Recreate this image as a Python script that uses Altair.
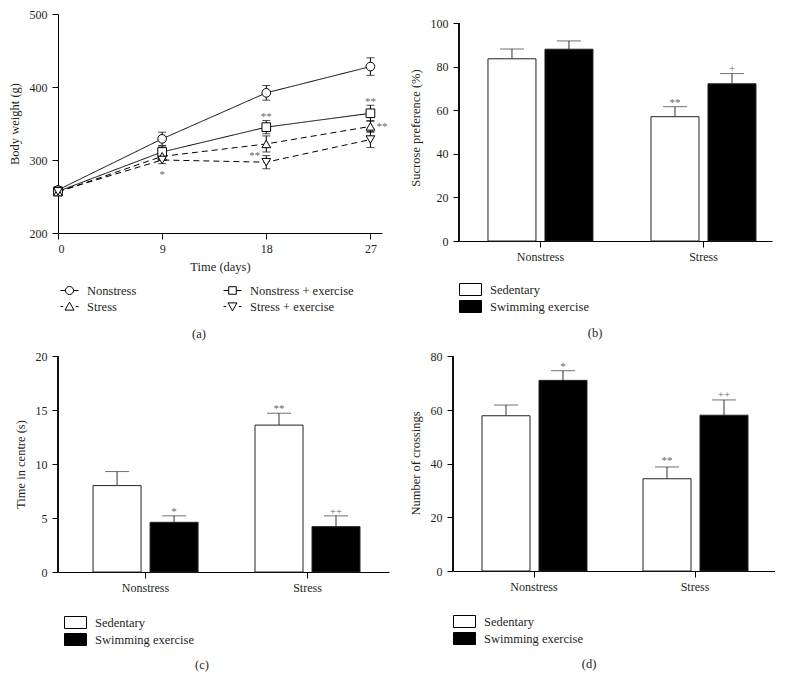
import altair as alt
import pandas as pd

FONT = "Liberation Serif"
INK = "#231f20"
GREY = "#666666"

# ---------------- panel (a): body weight ----------------
days = [0, 9, 18, 27]
series_names = ["Nonstress", "Nonstress + exercise", "Stress", "Stress + exercise"]
legend_order_a = ["Nonstress", "Stress", "Nonstress + exercise", "Stress + exercise"]
bw_nonstress = [259, 329, 392, 428]
bw_nonstress_err = [4, 9, 10, 12]
bw_ns_exercise = [257, 311, 345, 364]
bw_ns_exercise_err = [4, 8, 9, 11]
bw_stress = [256, 305, 322, 346]
bw_stress_err = [3, 5, 11, 8]
bw_s_exercise = [257, 300, 297, 328]
bw_s_exercise_err = [3, 5, 9, 11]
bw_ticks = [200, 300, 400, 500]

ann_a_text = ["*", "**", "**", "**", "**"]
ann_a_day = [9.0, 18.0, 27.0, 28.0, 17.0]
ann_a_value = [284, 363, 384, 350, 310]

# ---------------- bar panels ----------------
groups = ["Nonstress", "Stress"]
treatments = ["Sedentary", "Swimming exercise"]

sucrose_sed = [83.7, 57.1]
sucrose_sed_err = [4.5, 4.6]
sucrose_ex = [88.1, 72.2]
sucrose_ex_err = [3.8, 4.7]
sucrose_ticks = [0, 20, 40, 60, 80, 100]
ann_b_group = ["Stress", "Stress"]
ann_b_treat = ["Sedentary", "Swimming exercise"]
ann_b_value = [64.6, 80.6]
ann_b_text = ["**", "+"]

centre_sed = [8.0, 13.6]
centre_sed_err = [1.3, 1.1]
centre_ex = [4.6, 4.2]
centre_ex_err = [0.6, 1.0]
centre_ticks = [0, 5, 10, 15, 20]
ann_c_group = ["Nonstress", "Stress", "Stress"]
ann_c_treat = ["Swimming exercise", "Sedentary", "Swimming exercise"]
ann_c_value = [5.8, 15.4, 5.8]
ann_c_text = ["*", "**", "++"]

cross_sed = [57.9, 34.4]
cross_sed_err = [4.0, 4.4]
cross_ex = [71.1, 58.1]
cross_ex_err = [3.6, 5.7]
cross_ticks = [0, 20, 40, 60, 80]
ann_d_group = ["Nonstress", "Stress", "Stress"]
ann_d_treat = ["Swimming exercise", "Sedentary", "Swimming exercise"]
ann_d_value = [77.3, 42.1, 66.7]
ann_d_text = ["*", "**", "++"]

# legend symbols (unit paths), in legend_order_a order
legend_paths_a = [
    "M-1,0L-0.45,0M0.45,0L1,0M-0.45,0A0.45,0.45,0,1,1,0.45,0A0.45,0.45,0,1,1,-0.45,0Z",
    "M-1,0L-0.7,0M0.7,0L1,0M-0.5,0.4L0,-0.48L0.5,0.4Z",
    "M-1,0L-0.42,0M0.42,0L1,0M-0.42,-0.42L0.42,-0.42L0.42,0.42L-0.42,0.42Z",
    "M-1,0L-0.7,0M0.7,0L1,0M-0.5,-0.4L0,0.48L0.5,-0.4Z",
]
# 22 x 12 px rectangle drawn with a 12 px symbol size (unit = 6 px)
rect_path = "M-1.833,-1L1.833,-1L1.833,1L-1.833,1Z"


def title_params(text, dx, offset):
    return alt.TitleParams(text, orient="bottom", anchor="middle", frame="group",
                           dx=dx, offset=offset, font=FONT, fontSize=12.5,
                           fontWeight="normal", color=INK)


# ---- panel (a)
rows = []
for name, vals, errs in zip(series_names,
                            [bw_nonstress, bw_ns_exercise, bw_stress, bw_s_exercise],
                            [bw_nonstress_err, bw_ns_exercise_err, bw_stress_err, bw_s_exercise_err]):
    for d, v, e in zip(days, vals, errs):
        rows.append({"day": d, "series": name, "value": v, "lo": v - e, "hi": v + e})
df_a = pd.DataFrame(rows)
df_a_ann = pd.DataFrame({"day": ann_a_day, "value": ann_a_value, "text": ann_a_text})

xs_a = alt.Scale(domain=[0, 28], nice=False, zero=False)
ys_a = alt.Scale(domain=[200, 500], nice=False, zero=False)
x_a = alt.X("day:Q", scale=xs_a, title="Time (days)",
            axis=alt.Axis(values=days, labelPadding=4, titlePadding=6))
y_a = alt.Y("value:Q", scale=ys_a, title="Body weight (g)",
            axis=alt.Axis(values=bw_ticks))


def XA():
    return alt.X("day:Q", scale=xs_a, title="Time (days)")


def YA(field):
    return alt.Y(field, scale=ys_a, title="Body weight (g)")


lines_a = alt.Chart(df_a).mark_line(color="black", strokeWidth=1).encode(
    x=x_a, y=y_a, detail="series:N",
    strokeDash=alt.StrokeDash("series:N", scale=alt.Scale(
        domain=series_names, range=[[1, 0], [1, 0], [6, 4], [6, 4]]), legend=None),
)
err_a = alt.Chart(df_a).mark_rule(color="black", strokeWidth=1).encode(
    x=XA(), y=YA("lo:Q"), y2="hi:Q")
cap_lo_a = alt.Chart(df_a).mark_tick(orient="horizontal", size=8, thickness=1, color="black").encode(
    x=XA(), y=YA("lo:Q"))
cap_hi_a = alt.Chart(df_a).mark_tick(orient="horizontal", size=8, thickness=1, color="black").encode(
    x=XA(), y=YA("hi:Q"))
pts_a = alt.Chart(df_a).mark_point(filled=True, fill="white", stroke="black", strokeWidth=1,
                                   size=75, opacity=1).encode(
    x=XA(), y=YA("value:Q"),
    shape=alt.Shape("series:N", scale=alt.Scale(
        domain=series_names, range=["circle", "square", "triangle-up", "triangle-down"]), legend=None),
)
leg_a = alt.Chart(df_a).mark_point(filled=False, color="black", opacity=0).encode(
    x=XA(), y=YA("value:Q"),
    shape=alt.Shape("series:N", scale=alt.Scale(domain=legend_order_a, range=legend_paths_a),
                    legend=alt.Legend(orient="none", legendX=2, legendY=267, columns=2,
                                      columnPadding=84, rowPadding=0, title=None, padding=0,
                                      symbolSize=324, symbolStrokeWidth=1, symbolStrokeColor="black",
                                      symbolOpacity=1, labelFont=FONT, labelFontSize=12.5,
                                      labelColor=INK, labelOffset=8)),
)
txt_a = alt.Chart(df_a_ann).mark_text(font=FONT, fontSize=11, color=GREY, baseline="middle", dy=3).encode(
    x=XA(), y=YA("value:Q"), text="text:N")

panel_a = alt.layer(lines_a, err_a, cap_lo_a, cap_hi_a, pts_a, leg_a, txt_a).resolve_scale(
    shape="independent").properties(width=324, height=219, title=title_params("(a)", -21, 15))


def bar_panel(sed, sed_err, ex, ex_err, ann_group, ann_treat, ann_val, ann_text,
              y_title, y_ticks, width, height, axis_len, pad_inner, pad_outer, band_align,
              off_pad, legend_x, legend_y, label, label_dx, label_offset):
    vals = sed + ex
    errs = sed_err + ex_err
    df = pd.DataFrame({
        "group": groups + groups,
        "treatment": [treatments[0]] * 2 + [treatments[1]] * 2,
        "value": vals,
        "hi": [v + e for v, e in zip(vals, errs)],
    })
    dfa = pd.DataFrame({"group": ann_group, "treatment": ann_treat, "value": ann_val, "text": ann_text})
    y_max = y_ticks[-1]
    y_top = y_max * height / axis_len
    ys = alt.Scale(domain=[0, y_top], nice=False, zero=True)
    xs = alt.Scale(domain=groups, paddingInner=pad_inner, paddingOuter=pad_outer, align=band_align)
    xos = alt.Scale(domain=treatments, paddingInner=off_pad, paddingOuter=0)

    def X(axis=False):
        if axis:
            return alt.X("group:N", scale=xs, title=None,
                         axis=alt.Axis(labelAngle=0, labelPadding=4))
        return alt.X("group:N", scale=xs, title=None)

    def XO():
        return alt.XOffset("treatment:N", scale=xos)

    def Y(field, axis=False):
        if axis:
            return alt.Y(field, scale=ys, title=y_title,
                         axis=alt.Axis(values=y_ticks, domain=False))
        return alt.Y(field, scale=ys, title=y_title)

    bars = alt.Chart(df).mark_bar(stroke="#222222", strokeWidth=1).encode(
        x=X(True), xOffset=XO(), y=Y("value:Q", True),
        fill=alt.Fill("treatment:N", scale=alt.Scale(domain=treatments, range=["white", "black"]),
                      legend=alt.Legend(orient="none", legendX=legend_x + 5, legendY=legend_y,
                                        title=None, padding=0, rowPadding=0,
                                        symbolType=rect_path, symbolSize=144,
                                        symbolStrokeColor="black", symbolStrokeWidth=1,
                                        symbolOpacity=1, labelFont=FONT, labelFontSize=12.5,
                                        labelColor=INK, labelOffset=13)),
    )
    err = alt.Chart(df).mark_rule(color="#333333", strokeWidth=1).encode(
        x=X(), xOffset=XO(), y=Y("value:Q"), y2="hi:Q")
    cap = alt.Chart(df).mark_tick(orient="horizontal", size=24, thickness=1, color="#333333").encode(
        x=X(), xOffset=XO(), y=Y("hi:Q"))
    txt = alt.Chart(dfa).mark_text(font=FONT, fontSize=11, color=GREY, baseline="middle", dy=3).encode(
        x=X(), xOffset=XO(), y=Y("value:Q"), text="text:N")
    yline = alt.Chart(df).mark_rule(color="black", strokeWidth=1).encode(
        x=alt.value(0), y=alt.datum(0, scale=ys), y2=alt.datum(y_max))
    return alt.layer(bars, err, cap, txt, yline).properties(
        width=width, height=height, title=title_params(label, label_dx, label_offset))


panel_b = bar_panel(sucrose_sed, sucrose_sed_err, sucrose_ex, sucrose_ex_err,
                    ann_b_group, ann_b_treat, ann_b_value, ann_b_text,
                    "Sucrose preference (%)", sucrose_ticks, 313, 227, 217.7,
                    0.356, 0.138, 0.644, 0.158, 0, 269, "(b)", -20.5, 12)
panel_c = bar_panel(centre_sed, centre_sed_err, centre_ex, centre_ex_err,
                    ann_c_group, ann_c_treat, ann_c_value, ann_c_text,
                    "Time in centre (s)", centre_ticks, 331, 216, 216,
                    0.352, 0.198, 0.547, 0.158, 6, 260, "(c)", -21.5, 11)
panel_d = bar_panel(cross_sed, cross_sed_err, cross_ex, cross_ex_err,
                    ann_d_group, ann_d_treat, ann_d_value, ann_d_text,
                    "Number of crossings", cross_ticks, 322, 216, 214.5,
                    0.354, 0.177, 0.509, 0.16, 0, 260, "(d)", -25, 11)

chart = alt.concat(panel_a, panel_b, panel_c, panel_d, columns=2, align="none",
                   spacing={"row": 9, "column": 20}).resolve_scale(
    fill="independent", shape="independent", strokeDash="independent"
).resolve_legend(fill="independent", shape="independent").properties(
    padding=0, background="white"
).configure_view(stroke=None).configure_axis(
    grid=False, domainColor="black", domainWidth=1, tickColor="black", tickWidth=1,
    tickSize=6, labelFont=FONT, labelFontSize=12, labelColor=INK, labelPadding=5,
    titleFont=FONT, titleFontSize=12.5, titleFontWeight="normal", titleColor=INK,
    titlePadding=8,
)

chart.save("out.html", embed_options={"renderer": "svg", "actions": False})
